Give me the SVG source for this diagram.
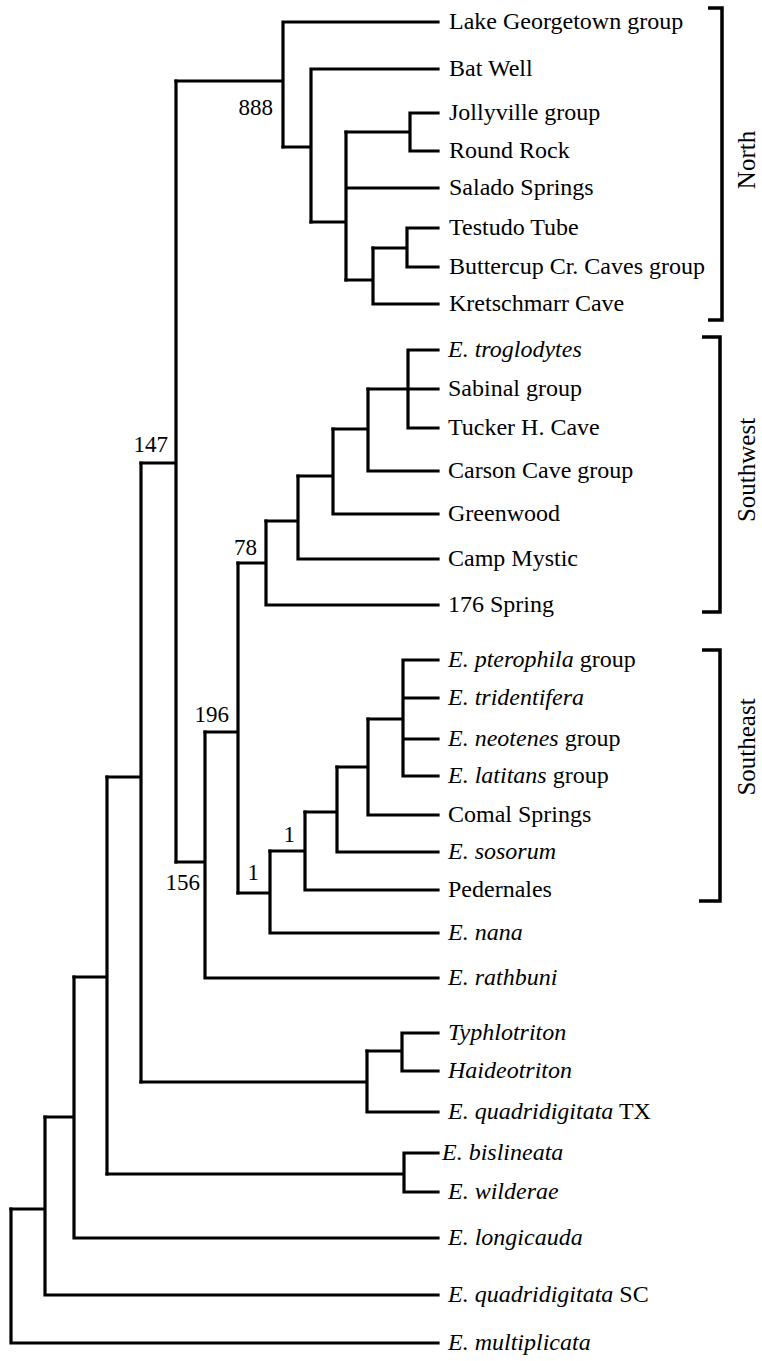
<svg xmlns="http://www.w3.org/2000/svg" width="762" height="1361" viewBox="0 0 762 1361">
<style>
.br{fill:none;stroke:#000;stroke-width:3.2;stroke-linecap:square;stroke-linejoin:miter}
.bk{fill:none;stroke:#000;stroke-width:3.5;stroke-linejoin:miter}
text{font-family:"Liberation Serif","Times New Roman",serif;font-size:24px;fill:#000}
.i{font-style:italic}
.num{font-size:23px;text-anchor:end}
.reg{font-size:25px;text-anchor:middle}
</style>
<rect width="762" height="1361" fill="#fff"/>
<g id="connectors">
<path class="br" d="M176,81 H283 M283,22 V147 M283,22 H438"/>
<path class="br" d="M283,147 H311 M311,69 V222 M311,69 H438"/>
<path class="br" d="M311,222 H346 M346,132 V280 M346,188 H438"/>
<path class="br" d="M346,132 H410 M410,113 V151 M410,113 H438 M410,151 H438"/>
<path class="br" d="M346,280 H373 M373,248 V304 M373,304 H438"/>
<path class="br" d="M373,248 H407 M407,228 V267 M407,228 H438 M407,267 H438"/>
<path class="br" d="M141,463 H176 M176,81 V862"/>
<path class="br" d="M176,862 H205 M205,732 V978 M205,978 H438"/>
<path class="br" d="M205,732 H238 M238,563 V893"/>
<path class="br" d="M238,563 H266 M266,521 V605 M266,605 H438"/>
<path class="br" d="M266,521 H298 M298,476 V559 M298,559 H438"/>
<path class="br" d="M298,476 H333 M333,429 V514 M333,514 H438"/>
<path class="br" d="M333,429 H368 M368,389 V471 M368,471 H438"/>
<path class="br" d="M368,389 H408 M408,350 V428 M408,350 H438 M408,389 H438 M408,428 H438"/>
<path class="br" d="M238,893 H270 M270,851 V933 M270,933 H438"/>
<path class="br" d="M270,851 H305 M305,812 V890 M305,890 H438"/>
<path class="br" d="M305,812 H337 M337,767 V852 M337,852 H438"/>
<path class="br" d="M337,767 H368 M368,719 V815 M368,815 H438"/>
<path class="br" d="M368,719 H403 M403,660 V776 M403,660 H438 M403,698 H438 M403,739 H438 M403,776 H438"/>
<path class="br" d="M107,777 H141 M141,463 V1082"/>
<path class="br" d="M141,1082 H367 M367,1051 V1112 M367,1112 H438"/>
<path class="br" d="M367,1051 H402 M402,1033 V1071 M402,1033 H438 M402,1071 H438"/>
<path class="br" d="M74,977 H107 M107,777 V1174"/>
<path class="br" d="M107,1174 H404 M404,1153 V1192 M404,1153 H438 M404,1192 H438"/>
<path class="br" d="M45,1117 H74 M74,977 V1238 M74,1238 H438"/>
<path class="br" d="M11,1209 H45 M45,1117 V1295 M45,1295 H438"/>
<path class="br" d="M11,1209 V1343 M11,1343 H438"/>
</g>
<g id="support-labels">
<g id="s888"><text class="num" x="273" y="115">888</text></g>
<g id="s147"><text class="num" x="168" y="452">147</text></g>
<g id="s78"><text class="num" x="257" y="555">78</text></g>
<g id="s196"><text class="num" x="229" y="722">196</text></g>
<g id="s156"><text class="num" x="200" y="890">156</text></g>
<g id="s1a"><text class="num" x="295" y="842">1</text></g>
<g id="s1b"><text class="num" x="259" y="880">1</text></g>
</g>
<g id="leaves">
<g id="lake-georgetown"><text x="449" y="29">Lake Georgetown group</text></g>
<g id="bat-well"><text x="449" y="76">Bat Well</text></g>
<g id="jollyville"><text x="449" y="120">Jollyville group</text></g>
<g id="round-rock"><text x="449" y="158">Round Rock</text></g>
<g id="salado"><text x="449" y="195">Salado Springs</text></g>
<g id="testudo"><text x="449" y="235">Testudo Tube</text></g>
<g id="buttercup"><text x="449" y="274">Buttercup Cr. Caves group</text></g>
<g id="kretschmarr"><text x="449" y="311">Kretschmarr Cave</text></g>
<g id="troglodytes"><text x="448" y="357" class="i">E. troglodytes</text></g>
<g id="sabinal"><text x="448" y="396">Sabinal group</text></g>
<g id="tucker"><text x="448" y="435">Tucker H. Cave</text></g>
<g id="carson"><text x="448" y="478">Carson Cave group</text></g>
<g id="greenwood"><text x="448" y="521">Greenwood</text></g>
<g id="camp-mystic"><text x="448" y="566">Camp Mystic</text></g>
<g id="spring176"><text x="448" y="612">176 Spring</text></g>
<g id="pterophila"><text x="448" y="667"><tspan class="i">E. pterophila</tspan> group</text></g>
<g id="tridentifera"><text x="448" y="705" class="i">E. tridentifera</text></g>
<g id="neotenes"><text x="448" y="746"><tspan class="i">E. neotenes</tspan> group</text></g>
<g id="latitans"><text x="448" y="783"><tspan class="i">E. latitans</tspan> group</text></g>
<g id="comal"><text x="448" y="822">Comal Springs</text></g>
<g id="sosorum"><text x="448" y="859" class="i">E. sosorum</text></g>
<g id="pedernales"><text x="448" y="897">Pedernales</text></g>
<g id="nana"><text x="448" y="940" class="i">E. nana</text></g>
<g id="rathbuni"><text x="448" y="985" class="i">E. rathbuni</text></g>
<g id="typhlotriton"><text x="448" y="1040" class="i">Typhlotriton</text></g>
<g id="haideotriton"><text x="448" y="1078" class="i">Haideotriton</text></g>
<g id="quad-tx"><text x="448" y="1119"><tspan class="i">E. quadridigitata</tspan> TX</text></g>
<g id="bislineata"><text x="442" y="1160" class="i">E. bislineata</text></g>
<g id="wilderae"><text x="448" y="1199" class="i">E. wilderae</text></g>
<g id="longicauda"><text x="448" y="1245" class="i">E. longicauda</text></g>
<g id="quad-sc"><text x="448" y="1302"><tspan class="i">E. quadridigitata</tspan> SC</text></g>
<g id="multiplicata"><text x="448" y="1350" class="i">E. multiplicata</text></g>
</g>
<g id="brackets">
<g id="north"><path class="bk" d="M708,8 H722 V320 H708"/><text class="reg" transform="translate(755,160) rotate(-90)">North</text></g>
<g id="southwest"><path class="bk" d="M702,337 H720 V612 H702"/><text class="reg" transform="translate(755,470) rotate(-90)">Southwest</text></g>
<g id="southeast"><path class="bk" d="M702,650 H720 V901 H699"/><text class="reg" transform="translate(755,747) rotate(-90)">Southeast</text></g>
</g>
</svg>
